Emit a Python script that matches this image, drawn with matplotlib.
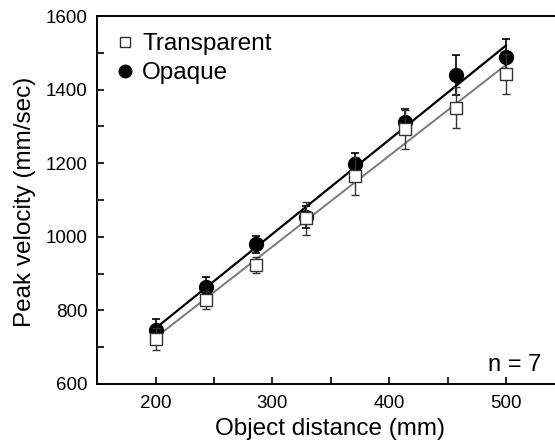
import numpy as np
import matplotlib
matplotlib.use("Agg")
from matplotlib import pyplot as plt

plt.rcParams["font.family"] = ["Liberation Sans", "DejaVu Sans"]

# data
distance = [200, 243, 286, 329, 371, 414, 457, 500]
opaque = [747, 864, 980, 1055, 1197, 1313, 1440, 1489]
opaque_err = [30, 28, 23, 30, 30, 34, 54, 48]
transparent = [721, 828, 923, 1050, 1166, 1293, 1351, 1442]
transparent_err = [30, 25, 22, 44, 51, 53, 55, 54]

x = np.array(distance)

fig = plt.figure(figsize=(5.55, 4.48), dpi=100)
ax = fig.add_axes([0.175, 0.143, 0.825, 0.821])

# regression lines
fit_o = np.polyfit(x, opaque, 1)
fit_t = np.polyfit(x, transparent, 1)
ax.plot(x, np.polyval(fit_o, x), color="black", lw=1.6, zorder=2)
ax.plot(x, np.polyval(fit_t, x), color="#7a7a7a", lw=1.4, zorder=2)

ax.errorbar(x, opaque, yerr=opaque_err, fmt="o", color="black", ms=10,
            ecolor="black", elinewidth=1.2, capsize=3, capthick=1.2, zorder=3)
ax.errorbar(x, transparent, yerr=transparent_err, fmt="s", mfc="white", mec="#333333",
            mew=1.0, ms=8.5, ecolor="#333333", elinewidth=1.0, capsize=3, capthick=1.0, zorder=4)

# legend
ax.plot([], [], "s", mfc="white", mec="#333333", mew=1.0, ms=7, label="Transparent")
ax.plot([], [], "o", color="black", ms=9, label="Opaque")
handles, labels = ax.get_legend_handles_labels()
ax.legend(handles[-2:], labels[-2:], loc="upper left", frameon=False, fontsize=17.5,
          handletextpad=0.25, borderaxespad=0.3, labelspacing=0.3, handlelength=0.9,
          borderpad=0.4)

ax.text(0.97, 0.022, "n = 7", transform=ax.transAxes, ha="right", va="bottom", fontsize=17)

ax.set_xlim(150, 542)
ax.set_ylim(600, 1600)
ax.set_xticks([200, 300, 400, 500])
ax.set_xticks([250, 350, 450], minor=True)
ax.set_yticks([600, 800, 1000, 1200, 1400, 1600])
ax.set_yticks([700, 900, 1100, 1300, 1500], minor=True)
ax.tick_params(which="both", direction="in", labelsize=13.5, width=1.2, length=5)
ax.tick_params(axis="y", which="both", pad=7)
ax.tick_params(axis="x", which="both", pad=8)
ax.spines["right"].set_visible(False)
for s in ["left", "bottom", "top"]:
    ax.spines[s].set_linewidth(1.4)

ax.set_xlabel("Object distance (mm)", fontsize=17.5, va="center")
ax.xaxis.set_label_coords(0.508, -0.122)
ax.set_ylabel("Peak velocity (mm/sec)", fontsize=17.5, va="center")
ax.yaxis.set_label_coords(-0.158, 0.495)

fig.savefig("out.png", dpi=100)
